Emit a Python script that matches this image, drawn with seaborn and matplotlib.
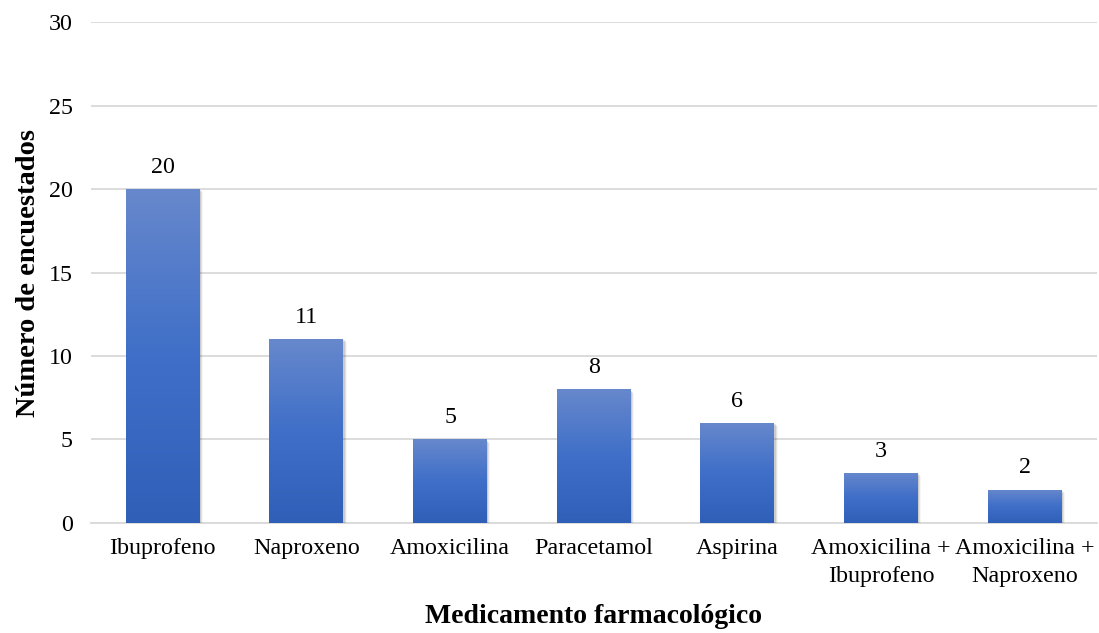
import numpy as np
import pandas as pd
import matplotlib
matplotlib.use("Agg")
import matplotlib.pyplot as plt
import seaborn as sns
from matplotlib.colors import LinearSegmentedColormap
from matplotlib.patches import Rectangle

# Survey results: medication used by respondents
medicamentos = [
    "Ibuprofeno",
    "Naproxeno",
    "Amoxicilina",
    "Paracetamol",
    "Aspirina",
    "Amoxicilina +\nIbuprofeno",
    "Amoxicilina +\nNaproxeno",
]
encuestados = [20, 11, 5, 8, 6, 3, 2]
y_ticks = [0, 5, 10, 15, 20, 25, 30]

df = pd.DataFrame({"Medicamento": medicamentos, "Encuestados": encuestados})

sns.set_theme(style="white")
plt.rcParams["font.family"] = ["Liberation Serif", "DejaVu Serif"]
plt.rcParams["text.color"] = "black"
plt.rcParams["axes.labelcolor"] = "black"

fig = plt.figure(figsize=(10.99, 6.33), dpi=100)
ax = fig.add_axes([0.0828, 0.1738, 0.915, 0.7914])

sns.barplot(data=df, x="Medicamento", y="Encuestados", ax=ax,
            width=0.515, color="#4472c4", saturation=1, zorder=3)

ax.set_ylim(0, 30)
ax.set_xlim(-0.5, len(medicamentos) - 0.5)
ax.set_yticks(y_ticks)
ax.yaxis.grid(True, color="#d9d9d9", linewidth=1.3, zorder=0)
ax.xaxis.grid(False)
for side in ["top", "right", "left"]:
    ax.spines[side].set_visible(False)
ax.spines["bottom"].set_color("#d9d9d9")
ax.spines["bottom"].set_linewidth(1.3)
ax.spines["bottom"].set_zorder(1)
ax.tick_params(axis="both", length=0, labelsize=17.3, colors="black")
ax.tick_params(axis="x", pad=11)
ax.tick_params(axis="y", pad=13)
for lbl in ax.get_xticklabels():
    lbl.set_linespacing(1.45)

ax.set_xlabel("Medicamento farmacológico", fontsize=20, fontweight="bold",
              labelpad=12, color="black")
ax.set_ylabel("Número de encuestados", fontsize=20.5, fontweight="bold",
              labelpad=6, color="black")

# Vertical gradient fill with a soft drop shadow on each bar
cmap = LinearSegmentedColormap.from_list(
    "bar", ["#2f5fb7", "#3f6fc8", "#6788cc"])
grad = np.linspace(0, 1, 256).reshape(-1, 1)
for patch in list(ax.patches):
    x0, y0 = patch.get_x(), patch.get_y()
    w, h = patch.get_width(), patch.get_height()
    for i, a in enumerate([0.10, 0.07, 0.04]):
        dx = 0.006 + 0.006 * i
        dy = 0.07 + 0.06 * i
        ax.add_patch(Rectangle((x0 + dx * 0.3, y0 - dy), w + dx, h,
                               facecolor="black", alpha=a, edgecolor="none",
                               zorder=2))
    patch.set_facecolor("none")
    patch.set_edgecolor("none")
    im = ax.imshow(grad, cmap=cmap, origin="lower", aspect="auto",
                   extent=[x0, x0 + w, y0, y0 + h], zorder=3.5,
                   interpolation="bicubic")
    im.set_clip_path(patch)

ax.set_xlim(-0.5, len(medicamentos) - 0.5)
ax.set_ylim(0, 30)

for i, v in enumerate(encuestados):
    ax.annotate(f"{v}", xy=(i, v), xytext=(0, 8), textcoords="offset points",
                ha="center", va="bottom", fontsize=17.3, color="black")

fig.savefig("out.png", dpi=100)
